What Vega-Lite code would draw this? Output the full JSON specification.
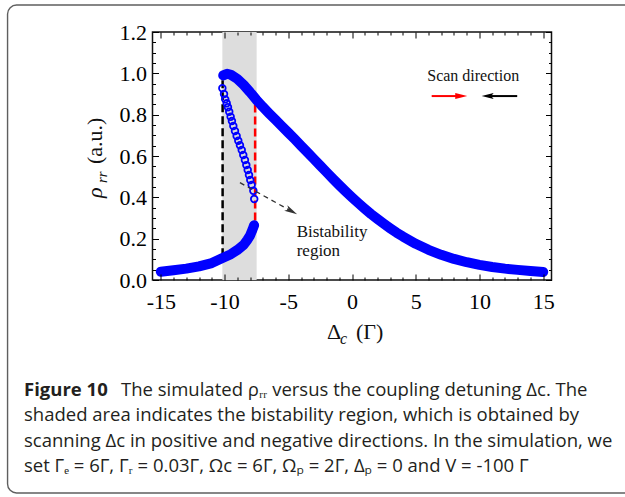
{
  "$schema": "https://vega.github.io/schema/vega-lite/v6.json",
  "width": 399,
  "height": 248,
  "autosize": {"type": "none"},
  "padding": {"left": 152.5, "top": 32, "right": 73.5, "bottom": 217},
  "background": "white",
  "config": {
    "view": {"stroke": "#111111", "strokeWidth": 1.5},
    "axis": {"grid": false, "domain": false}
  },
  "resolve": {"axis": {"x": "independent", "y": "independent"}},
  "layer": [
    {
      "data": {"values": [{"x1": -27.02, "x2": 22.6, "y1": 1.3306, "y2": -1.0306}]},
      "mark": {"type": "rect", "fillOpacity": 0, "stroke": "#5f5f5f", "strokeWidth": 1.4, "cornerRadius": 9},
      "encoding": {
        "x": {"field": "x1", "type": "quantitative", "scale": {"domain": [-15.65, 15.65], "nice": false, "zero": false}, "axis": null},
        "x2": {"field": "x2"},
        "y": {"field": "y1", "type": "quantitative", "scale": {"domain": [0, 1.2], "nice": false, "zero": false}, "axis": null},
        "y2": {"field": "y2"}
      }
    },
    {
      "data": {"values": [{"x1": -10.17, "x2": -7.48, "y1": 0, "y2": 1.2}]},
      "mark": {"type": "rect", "color": "#dddddd"},
      "encoding": {
        "x": {"field": "x1", "type": "quantitative", "scale": {"domain": [-15.65, 15.65], "nice": false, "zero": false},
          "axis": {"orient": "bottom", "values": [-15,-14,-13,-12,-11,-10,-9,-8,-7,-6,-5,-4,-3,-2,-1,0,1,2,3,4,5,6,7,8,9,10,11,12,13,14,15],
            "labelExpr": "datum.value % 5 === 0 ? '' + datum.value : ''",
            "labelFont": "Liberation Serif", "labelFontSize": 22, "labelColor": "black", "labelPadding": 17,
            "labelFlush": false, "labelOverlap": false, "tickColor": "black", "tickWidth": 1,
            "tickSize": {"condition": {"test": "datum.value % 5 === 0", "value": -6}, "value": -3},
            "domain": false, "grid": false, "title": null, "zindex": 1}},
        "x2": {"field": "x2"},
        "y": {"field": "y1", "type": "quantitative", "scale": {"domain": [0, 1.2], "nice": false, "zero": false},
          "axis": {"orient": "left", "values": [0,0.05,0.1,0.15,0.2,0.25,0.3,0.35,0.4,0.45,0.5,0.55,0.6,0.65,0.7,0.75,0.8,0.85,0.9,0.95,1,1.05,1.1,1.15,1.2],
            "labelExpr": "abs(datum.value*5 - round(datum.value*5)) < 0.000001 ? format(datum.value, '.1f') : ''",
            "labelFont": "Liberation Serif", "labelFontSize": 22, "labelColor": "black", "labelPadding": 12,
            "labelFlush": false, "labelOverlap": false, "tickColor": "black", "tickWidth": 1,
            "tickSize": {"condition": {"test": "abs(datum.value*5 - round(datum.value*5)) < 0.000001", "value": -6}, "value": -3},
            "domain": false, "grid": false, "title": null, "zindex": 1}},
        "y2": {"field": "y2"}
      }
    },
    {
      "data": {"values": [
        {"x": -10.15, "y1": 0.115, "y2": 0.99, "scan": "backward"},
        {"x": -7.6, "y1": 0.23, "y2": 0.87, "scan": "forward"}
      ]},
      "mark": {"type": "rule", "strokeWidth": 2.5, "strokeDash": [8, 4]},
      "encoding": {
        "x": {"field": "x", "type": "quantitative", "scale": {"domain": [-15.65, 15.65], "nice": false, "zero": false}, "axis": null},
        "y": {"field": "y1", "type": "quantitative", "scale": {"domain": [0, 1.2], "nice": false, "zero": false}, "axis": null},
        "y2": {"field": "y2"},
        "color": {"field": "scan", "type": "nominal", "scale": {"domain": ["backward", "forward"], "range": ["#000000", "#ff0000"]}, "legend": null}
      }
    },
    {
      "data": {"values": [
        {"branch": "upper", "x": -10.1, "y": 0.99},
        {"branch": "upper", "x": -9.8, "y": 0.998},
        {"branch": "upper", "x": -9.5, "y": 0.993},
        {"branch": "upper", "x": -9.0, "y": 0.973},
        {"branch": "upper", "x": -8.5, "y": 0.944},
        {"branch": "upper", "x": -8.0, "y": 0.909},
        {"branch": "upper", "x": -7.5, "y": 0.872},
        {"branch": "upper", "x": -7.0, "y": 0.838},
        {"branch": "upper", "x": -6.5, "y": 0.806},
        {"branch": "upper", "x": -6.0, "y": 0.775},
        {"branch": "upper", "x": -5.5, "y": 0.744},
        {"branch": "upper", "x": -5.0, "y": 0.713},
        {"branch": "upper", "x": -4.5, "y": 0.682},
        {"branch": "upper", "x": -4.0, "y": 0.650},
        {"branch": "upper", "x": -3.5, "y": 0.618},
        {"branch": "upper", "x": -3.0, "y": 0.586},
        {"branch": "upper", "x": -2.5, "y": 0.554},
        {"branch": "upper", "x": -2.0, "y": 0.522},
        {"branch": "upper", "x": -1.5, "y": 0.490},
        {"branch": "upper", "x": -1.0, "y": 0.459},
        {"branch": "upper", "x": -0.5, "y": 0.429},
        {"branch": "upper", "x": 0.0, "y": 0.400},
        {"branch": "upper", "x": 0.5, "y": 0.372},
        {"branch": "upper", "x": 1.0, "y": 0.345},
        {"branch": "upper", "x": 1.5, "y": 0.319},
        {"branch": "upper", "x": 2.0, "y": 0.295},
        {"branch": "upper", "x": 2.5, "y": 0.272},
        {"branch": "upper", "x": 3.0, "y": 0.250},
        {"branch": "upper", "x": 3.5, "y": 0.229},
        {"branch": "upper", "x": 4.0, "y": 0.210},
        {"branch": "upper", "x": 5.0, "y": 0.175},
        {"branch": "upper", "x": 6.0, "y": 0.146},
        {"branch": "upper", "x": 7.0, "y": 0.122},
        {"branch": "upper", "x": 8.0, "y": 0.102},
        {"branch": "upper", "x": 9.0, "y": 0.086},
        {"branch": "upper", "x": 10.0, "y": 0.073},
        {"branch": "upper", "x": 11.0, "y": 0.063},
        {"branch": "upper", "x": 12.0, "y": 0.055},
        {"branch": "upper", "x": 13.0, "y": 0.049},
        {"branch": "upper", "x": 14.0, "y": 0.044},
        {"branch": "upper", "x": 15.0, "y": 0.039},
        {"branch": "lower", "x": -15.0, "y": 0.040},
        {"branch": "lower", "x": -14.0, "y": 0.047},
        {"branch": "lower", "x": -13.0, "y": 0.055},
        {"branch": "lower", "x": -12.0, "y": 0.066},
        {"branch": "lower", "x": -11.0, "y": 0.082},
        {"branch": "lower", "x": -10.2, "y": 0.105},
        {"branch": "lower", "x": -9.5, "y": 0.125},
        {"branch": "lower", "x": -9.0, "y": 0.145},
        {"branch": "lower", "x": -8.5, "y": 0.17},
        {"branch": "lower", "x": -8.2, "y": 0.195},
        {"branch": "lower", "x": -8.0, "y": 0.215},
        {"branch": "lower", "x": -7.8, "y": 0.245},
        {"branch": "lower", "x": -7.68, "y": 0.265}
      ]},
      "mark": {"type": "line", "color": "#0000ff", "strokeWidth": 10, "strokeCap": "round", "strokeJoin": "round"},
      "encoding": {
        "x": {"field": "x", "type": "quantitative", "scale": {"domain": [-15.65, 15.65], "nice": false, "zero": false},
          "axis": {"orient": "top", "values": [-15,-14,-13,-12,-11,-10,-9,-8,-7,-6,-5,-4,-3,-2,-1,0,1,2,3,4,5,6,7,8,9,10,11,12,13,14,15],
            "labels": false, "tickColor": "black", "tickWidth": 1,
            "tickSize": {"condition": {"test": "datum.value % 5 === 0", "value": -6}, "value": -3},
            "domain": false, "grid": false, "title": null, "zindex": 1}},
        "y": {"field": "y", "type": "quantitative", "scale": {"domain": [0, 1.2], "nice": false, "zero": false},
          "axis": {"orient": "right", "values": [0,0.05,0.1,0.15,0.2,0.25,0.3,0.35,0.4,0.45,0.5,0.55,0.6,0.65,0.7,0.75,0.8,0.85,0.9,0.95,1,1.05,1.1,1.15,1.2],
            "labels": false, "tickColor": "black", "tickWidth": 1,
            "tickSize": {"condition": {"test": "abs(datum.value*5 - round(datum.value*5)) < 0.000001", "value": -6}, "value": -3},
            "domain": false, "grid": false, "title": null, "zindex": 1}},
        "detail": {"field": "branch", "type": "nominal"}
      }
    },
    {
      "data": {"values": [
        {"x": -10.17, "y": 0.928}, {"x": -10.04, "y": 0.90}, {"x": -9.94, "y": 0.874}, {"x": -9.83, "y": 0.855},
        {"x": -9.73, "y": 0.836}, {"x": -9.63, "y": 0.814}, {"x": -9.52, "y": 0.79}, {"x": -9.42, "y": 0.769},
        {"x": -9.31, "y": 0.745}, {"x": -9.18, "y": 0.721}, {"x": -9.05, "y": 0.697}, {"x": -8.92, "y": 0.674},
        {"x": -8.79, "y": 0.652}, {"x": -8.65, "y": 0.629}, {"x": -8.53, "y": 0.605}, {"x": -8.40, "y": 0.581},
        {"x": -8.29, "y": 0.556}, {"x": -8.18, "y": 0.532}, {"x": -8.08, "y": 0.508}, {"x": -7.98, "y": 0.484},
        {"x": -7.87, "y": 0.46}, {"x": -7.74, "y": 0.432}, {"x": -7.67, "y": 0.392}, {"x": -7.67, "y": 0.266}
      ]},
      "mark": {"type": "point", "shape": "circle", "filled": false, "stroke": "#0000ff", "strokeWidth": 1.8, "size": 44, "opacity": 1},
      "encoding": {
        "x": {"field": "x", "type": "quantitative", "scale": {"domain": [-15.65, 15.65], "nice": false, "zero": false}, "axis": null},
        "y": {"field": "y", "type": "quantitative", "scale": {"domain": [0, 1.2], "nice": false, "zero": false}, "axis": null}
      }
    },
    {
      "data": {"values": [
        {"x1": 6.25, "x2": 8.57, "y": 0.89, "scan": "forward"},
        {"x1": 10.64, "x2": 12.96, "y": 0.89, "scan": "backward"}
      ]},
      "mark": {"type": "rule", "strokeWidth": 2},
      "encoding": {
        "x": {"field": "x1", "type": "quantitative", "scale": {"domain": [-15.65, 15.65], "nice": false, "zero": false}, "axis": null},
        "x2": {"field": "x2"},
        "y": {"field": "y", "type": "quantitative", "scale": {"domain": [0, 1.2], "nice": false, "zero": false}, "axis": null},
        "color": {"field": "scan", "type": "nominal", "scale": {"domain": ["backward", "forward"], "range": ["#000000", "#ff0000"]}, "legend": null}
      }
    },
    {
      "data": {"values": [{"x": 8.57, "y": 0.89}]},
      "mark": {"type": "point", "shape": "M-1,-0.5L1,0L-1,0.5Z", "filled": true, "color": "#ff0000", "size": 144, "opacity": 1},
      "encoding": {
        "x": {"field": "x", "type": "quantitative", "scale": {"domain": [-15.65, 15.65], "nice": false, "zero": false}, "axis": null},
        "y": {"field": "y", "type": "quantitative", "scale": {"domain": [0, 1.2], "nice": false, "zero": false}, "axis": null}
      }
    },
    {
      "data": {"values": [{"x": 10.64, "y": 0.89}]},
      "mark": {"type": "point", "shape": "M1,-0.5L-1,0L1,0.5L0.6,0Z", "filled": true, "color": "#000000", "size": 144, "opacity": 1},
      "encoding": {
        "x": {"field": "x", "type": "quantitative", "scale": {"domain": [-15.65, 15.65], "nice": false, "zero": false}, "axis": null},
        "y": {"field": "y", "type": "quantitative", "scale": {"domain": [0, 1.2], "nice": false, "zero": false}, "axis": null}
      }
    },
    {
      "data": {"values": [{"x1": -8.79, "y1": 0.471, "x2": -4.75, "y2": 0.333}]},
      "mark": {"type": "rule", "color": "#333333", "strokeWidth": 1.3, "strokeDash": [5, 4]},
      "encoding": {
        "x": {"field": "x1", "type": "quantitative", "scale": {"domain": [-15.65, 15.65], "nice": false, "zero": false}, "axis": null},
        "x2": {"field": "x2"},
        "y": {"field": "y1", "type": "quantitative", "scale": {"domain": [0, 1.2], "nice": false, "zero": false}, "axis": null},
        "y2": {"field": "y2"}
      }
    },
    {
      "data": {"values": [{"x": -4.75, "y": 0.333}]},
      "mark": {"type": "point", "shape": "M-1,-0.5L1,0L-1,0.5L-0.5,0Z", "angle": 29, "filled": true, "color": "#333333", "size": 169, "opacity": 1},
      "encoding": {
        "x": {"field": "x", "type": "quantitative", "scale": {"domain": [-15.65, 15.65], "nice": false, "zero": false}, "axis": null},
        "y": {"field": "y", "type": "quantitative", "scale": {"domain": [0, 1.2], "nice": false, "zero": false}, "axis": null}
      }
    },
    {
      "data": {"values": [{"x": 9.51, "y": 0.963, "t": "Scan direction"}]},
      "mark": {"type": "text", "font": "Liberation Serif", "fontSize": 16, "color": "#111111", "align": "center", "baseline": "alphabetic"},
      "encoding": {
        "x": {"field": "x", "type": "quantitative", "scale": {"domain": [-15.65, 15.65], "nice": false, "zero": false}, "axis": null},
        "y": {"field": "y", "type": "quantitative", "scale": {"domain": [0, 1.2], "nice": false, "zero": false}, "axis": null},
        "text": {"field": "t"}
      }
    },
    {
      "data": {"values": [{"x": -4.34, "y": 0.208, "t": "Bistability\nregion"}]},
      "mark": {"type": "text", "font": "Liberation Serif", "fontSize": 17, "color": "#111111", "align": "left", "baseline": "alphabetic", "lineBreak": "\n", "lineHeight": 19},
      "encoding": {
        "x": {"field": "x", "type": "quantitative", "scale": {"domain": [-15.65, 15.65], "nice": false, "zero": false}, "axis": null},
        "y": {"field": "y", "type": "quantitative", "scale": {"domain": [0, 1.2], "nice": false, "zero": false}, "axis": null},
        "text": {"field": "t"}
      }
    },
    {
      "data": {"values": [
        {"x": -1.964, "y": -0.2855, "t": "Δ"},
        {"x": 0.31, "y": -0.2855, "t": "(Γ)"}
      ]},
      "mark": {"type": "text", "font": "Liberation Serif", "fontSize": 22, "color": "#111111", "align": "left", "baseline": "alphabetic"},
      "encoding": {
        "x": {"field": "x", "type": "quantitative", "scale": {"domain": [-15.65, 15.65], "nice": false, "zero": false}, "axis": null},
        "y": {"field": "y", "type": "quantitative", "scale": {"domain": [0, 1.2], "nice": false, "zero": false}, "axis": null},
        "text": {"field": "t"}
      }
    },
    {
      "data": {"values": [{"x": -0.944, "y": -0.3097, "t": "c"}]},
      "mark": {"type": "text", "font": "Liberation Serif", "fontSize": 16, "fontStyle": "italic", "color": "#111111", "align": "left", "baseline": "alphabetic"},
      "encoding": {
        "x": {"field": "x", "type": "quantitative", "scale": {"domain": [-15.65, 15.65], "nice": false, "zero": false}, "axis": null},
        "y": {"field": "y", "type": "quantitative", "scale": {"domain": [0, 1.2], "nice": false, "zero": false}, "axis": null},
        "text": {"field": "t"}
      }
    },
    {
      "data": {"values": [{"x": -19.61, "y": 0.3968, "t": "ρ"}]},
      "mark": {"type": "text", "font": "Liberation Serif", "fontSize": 22, "fontStyle": "italic", "angle": 270, "color": "#111111", "align": "left", "baseline": "alphabetic"},
      "encoding": {
        "x": {"field": "x", "type": "quantitative", "scale": {"domain": [-15.65, 15.65], "nice": false, "zero": false}, "axis": null},
        "y": {"field": "y", "type": "quantitative", "scale": {"domain": [0, 1.2], "nice": false, "zero": false}, "axis": null},
        "text": {"field": "t"}
      }
    },
    {
      "data": {"values": [{"x": -19.22, "y": 0.4694, "t": "rr"}]},
      "mark": {"type": "text", "font": "Liberation Serif", "fontSize": 15, "fontStyle": "italic", "angle": 270, "color": "#111111", "align": "left", "baseline": "alphabetic"},
      "encoding": {
        "x": {"field": "x", "type": "quantitative", "scale": {"domain": [-15.65, 15.65], "nice": false, "zero": false}, "axis": null},
        "y": {"field": "y", "type": "quantitative", "scale": {"domain": [0, 1.2], "nice": false, "zero": false}, "axis": null},
        "text": {"field": "t"}
      }
    },
    {
      "data": {"values": [{"x": -19.61, "y": 0.5613, "t": "(a.u.)"}]},
      "mark": {"type": "text", "font": "Liberation Serif", "fontSize": 22, "angle": 270, "color": "#111111", "align": "left", "baseline": "alphabetic"},
      "encoding": {
        "x": {"field": "x", "type": "quantitative", "scale": {"domain": [-15.65, 15.65], "nice": false, "zero": false}, "axis": null},
        "y": {"field": "y", "type": "quantitative", "scale": {"domain": [0, 1.2], "nice": false, "zero": false}, "axis": null},
        "text": {"field": "t"}
      }
    },
    {
      "data": {"values": [{"x": -25.73, "y": -0.5613, "t": "Figure 10"}]},
      "mark": {"type": "text", "font": "Open Sans", "fontSize": 18.5, "fontWeight": "bold", "color": "#231f20", "align": "left", "baseline": "alphabetic"},
      "encoding": {
        "x": {"field": "x", "type": "quantitative", "scale": {"domain": [-15.65, 15.65], "nice": false, "zero": false}, "axis": null},
        "y": {"field": "y", "type": "quantitative", "scale": {"domain": [0, 1.2], "nice": false, "zero": false}, "axis": null},
        "text": {"field": "t"}
      }
    },
    {
      "data": {"values": [
        {"x": -18.12, "y": -0.5613, "t": "The simulated ρᵣᵣ versus the coupling detuning Δc. The"},
        {"x": -25.73, "y": -0.6822, "t": "shaded area indicates the bistability region, which is obtained by"},
        {"x": -25.73, "y": -0.8080, "t": "scanning Δc in positive and negative directions. In the simulation, we"},
        {"x": -25.73, "y": -0.9290, "t": "set Γₑ = 6Γ, Γᵣ = 0.03Γ, Ωc = 6Γ, Ωₚ = 2Γ, Δₚ = 0 and V = -100 Γ"}
      ]},
      "mark": {"type": "text", "font": "Open Sans", "fontSize": 18.5, "color": "#231f20", "align": "left", "baseline": "alphabetic"},
      "encoding": {
        "x": {"field": "x", "type": "quantitative", "scale": {"domain": [-15.65, 15.65], "nice": false, "zero": false}, "axis": null},
        "y": {"field": "y", "type": "quantitative", "scale": {"domain": [0, 1.2], "nice": false, "zero": false}, "axis": null},
        "text": {"field": "t"}
      }
    }
  ]
}
